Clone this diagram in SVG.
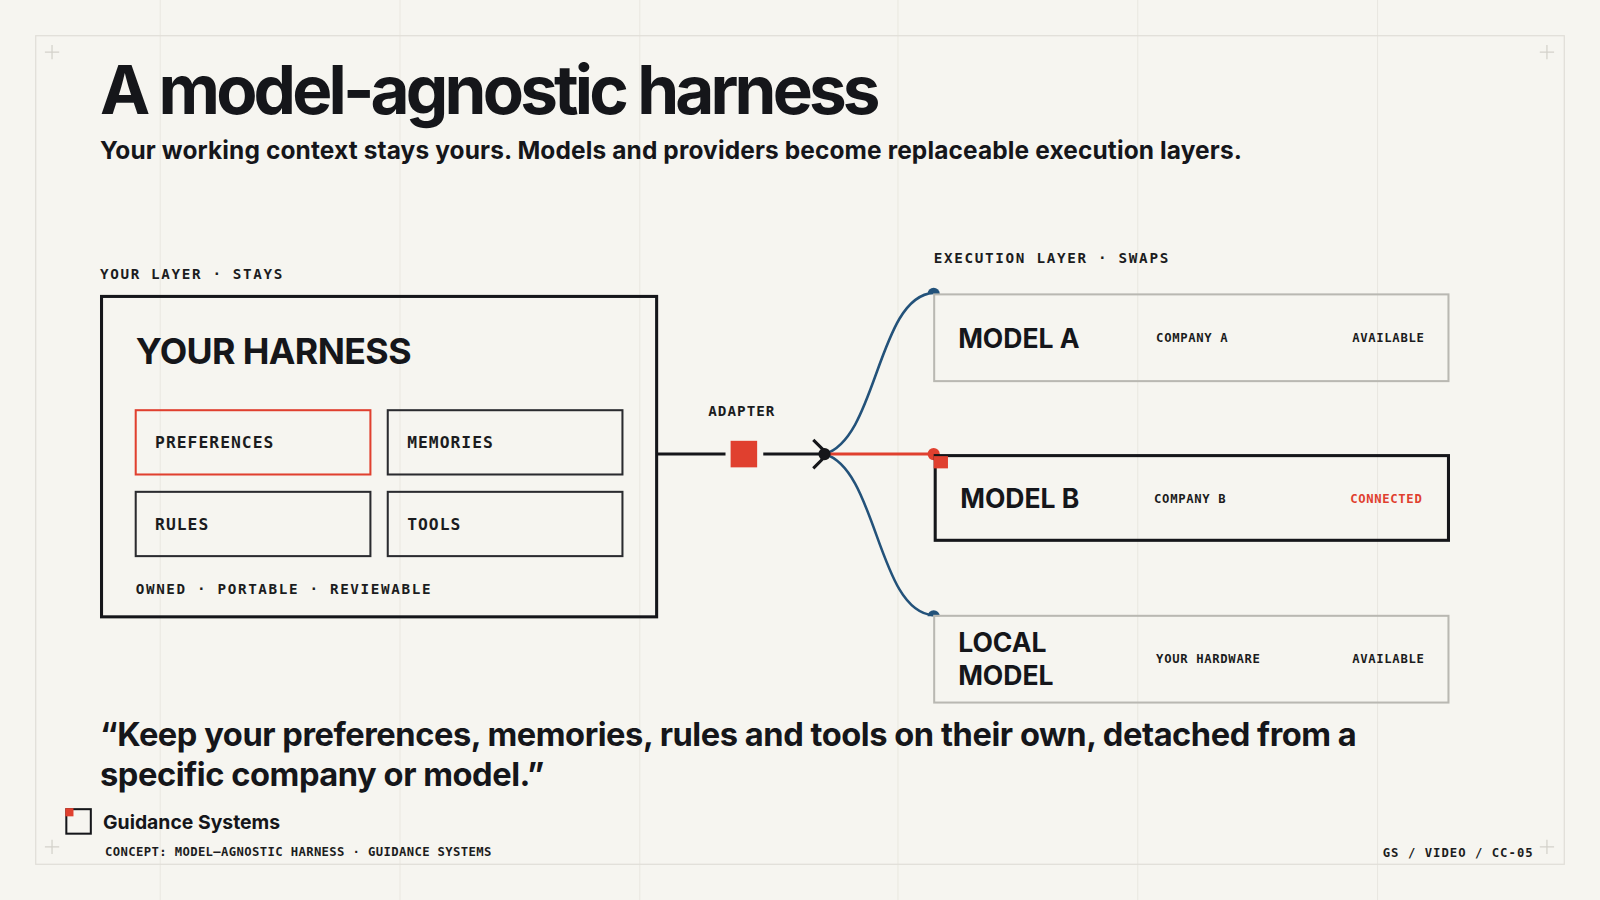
<svg xmlns="http://www.w3.org/2000/svg" width="1600" height="900" viewBox="0 0 1600 900">
<style>
.sans{font-family:Inter,"Liberation Sans",sans-serif;font-weight:700;fill:#15161a}
.mono{font-family:"DejaVu Sans Mono","Liberation Mono",monospace;font-weight:700;fill:#1b1c20}
.sm{font-size:12px;letter-spacing:0.65px}
.cell{fill:none;stroke:#2a2b2f;stroke-width:2}
.grid{stroke:#e9e7e0;stroke-width:1}
.cross{stroke:#d3d1ca;stroke-width:1.2}
.blue{fill:none;stroke:#23527a;stroke-width:2.5}
</style>
<rect width="1600" height="900" fill="#f6f5f0"/>
<g transform="scale(1.020408)">
<g id="grid">
<line class="grid" x1="157" y1="0" x2="157" y2="882"/>
<line class="grid" x1="392" y1="0" x2="392" y2="882"/>
<line class="grid" x1="627" y1="0" x2="627" y2="882"/>
<line class="grid" x1="880" y1="0" x2="880" y2="882"/>
<line class="grid" x1="1115" y1="0" x2="1115" y2="882"/>
<line class="grid" x1="1350" y1="0" x2="1350" y2="882"/>
<rect x="35" y="35" width="1498" height="812" fill="none" stroke="#e0ded7" stroke-width="1.2"/>
<path class="cross" d="M44 51h14M51 44v14M1509 51h14M1516 44v14M44 830h14M51 823v14M1509 830h14M1516 823v14"/>
</g>
<text class="sans" x="98" y="112" font-size="66" letter-spacing="-3.75">A model-agnostic harness</text>
<text class="sans" x="98" y="156" font-size="24" font-weight="600" letter-spacing="0.12">Your working context stays yours. Models and providers become replaceable execution layers.</text>
<text class="mono" x="98" y="273" font-size="14" letter-spacing="1.6">YOUR LAYER · STAYS</text>
<g id="harness">
<rect x="99.5" y="290.5" width="544" height="314" fill="none" stroke="#15161a" stroke-width="3"/>
<text class="sans" x="133" y="357" font-size="35" letter-spacing="-0.6">YOUR HARNESS</text>
<text class="mono" x="133" y="582" font-size="14" letter-spacing="1.6">OWNED · PORTABLE · REVIEWABLE</text>
</g>
<g id="preferences"><rect x="133" y="402" width="230" height="63" fill="none" stroke="#e0402f" stroke-width="2"/><text class="mono" x="152" y="439" font-size="16" letter-spacing="1">PREFERENCES</text></g>
<g id="memories"><rect class="cell" x="380" y="402" width="230" height="63"/><text class="mono" x="399" y="439" font-size="16" letter-spacing="1">MEMORIES</text></g>
<g id="rules"><rect class="cell" x="133" y="482" width="230" height="63"/><text class="mono" x="152" y="519" font-size="16" letter-spacing="1">RULES</text></g>
<g id="tools"><rect class="cell" x="380" y="482" width="230" height="63"/><text class="mono" x="399" y="519" font-size="16" letter-spacing="1">TOOLS</text></g>
<g id="connectors">
<line x1="643" y1="445" x2="711" y2="445" stroke="#15161a" stroke-width="3"/>
<line x1="748" y1="445" x2="806" y2="445" stroke="#15161a" stroke-width="3"/>
<path d="M797 431L811 445L797 459" fill="none" stroke="#15161a" stroke-width="3"/>
<path class="blue" d="M808 445C860 430 860 290 915 287"/>
<path class="blue" d="M808 445C860 460 860 600 915 603"/>
<line x1="808" y1="445" x2="915" y2="445" stroke="#e0402f" stroke-width="3"/>
<circle cx="808" cy="445" r="6" fill="#15161a"/>
<circle cx="915" cy="445" r="6" fill="#e0402f"/>
<path d="M909 288a6 6 0 0 1 12 0z" fill="#23527a"/>
<path d="M909 604a6 6 0 0 1 12 0z" fill="#23527a"/>
</g>
<g id="adapter">
<rect x="716" y="432" width="26" height="26" fill="#e0402f"/>
<text class="mono" x="727" y="408" font-size="14" text-anchor="middle" letter-spacing="1">ADAPTER</text>
</g>
<text class="mono" x="915" y="258" font-size="14" letter-spacing="1.65">EXECUTION LAYER · SWAPS</text>
<g id="modelA">
<rect x="915.5" y="288.5" width="504" height="85" fill="none" stroke="#b9b8b2" stroke-width="2"/>
<text class="sans" x="939" y="341" font-size="26">MODEL A</text>
<text class="mono sm" x="1133" y="335">COMPANY A</text>
<text class="mono sm" x="1396" y="335" text-anchor="end">AVAILABLE</text>
</g>
<g id="modelB">
<rect x="916.5" y="446.5" width="503" height="83" fill="none" stroke="#15161a" stroke-width="3"/>
<rect x="915" y="447" width="14" height="12" fill="#e0402f"/>
<text class="sans" x="941" y="498" font-size="26">MODEL B</text>
<text class="mono sm" x="1131" y="493">COMPANY B</text>
<text class="mono sm" x="1394" y="493" text-anchor="end" style="fill:#e0402f">CONNECTED</text>
</g>
<g id="localModel">
<rect x="915.5" y="603.5" width="504" height="85" fill="none" stroke="#b9b8b2" stroke-width="2"/>
<text class="sans" x="939" y="639" font-size="26">LOCAL</text>
<text class="sans" x="939" y="671" font-size="26">MODEL</text>
<text class="mono sm" x="1133" y="650">YOUR HARDWARE</text>
<text class="mono sm" x="1396" y="650" text-anchor="end">AVAILABLE</text>
</g>
<text class="sans" x="98" y="731" font-size="32" letter-spacing="-0.45">“Keep your preferences, memories, rules and tools on their own, detached from a</text>
<text class="sans" x="98" y="770" font-size="32" letter-spacing="-0.45">specific company or model.”</text>
<g id="logo">
<rect x="65" y="793" width="24" height="24" fill="none" stroke="#15161a" stroke-width="2"/>
<rect x="64" y="792" width="8" height="8" fill="#e0402f"/>
<text class="sans" x="101" y="812" font-size="19">Guidance Systems</text>
</g>
<text class="mono" x="103" y="839" font-size="12" font-weight="400" letter-spacing="0.36">CONCEPT: MODEL–AGNOSTIC HARNESS · GUIDANCE SYSTEMS</text>
<text class="mono" x="1503" y="840" font-size="12" font-weight="400" text-anchor="end" letter-spacing="1">GS / VIDEO / CC-05</text>
</g>
</svg>
